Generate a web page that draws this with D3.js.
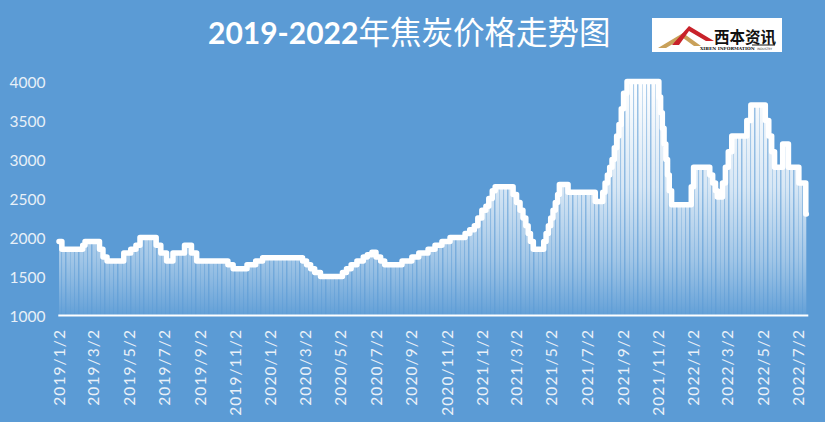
<!DOCTYPE html>
<html><head><meta charset="utf-8">
<script src="https://cdn.jsdelivr.net/npm/d3@7"></script>
<style>body{margin:0;background:#5b9bd5;} svg{display:block}</style>
</head><body>
<svg id="chart" width="825" height="422"></svg>
<script>
// ---- data ----
const dates = [
"2019-01-02","2019-01-07","2019-02-12","2019-02-16","2019-03-13","2019-03-19","2019-03-26","2019-04-24",
"2019-05-06","2019-05-15","2019-05-22","2019-06-19","2019-06-27","2019-07-07","2019-07-18","2019-08-07",
"2019-08-19","2019-08-28","2019-10-21","2019-10-30","2019-11-23","2019-12-08","2019-12-20",
"2020-02-27","2020-03-05","2020-03-12","2020-03-19","2020-03-29","2020-05-06","2020-05-13","2020-05-21",
"2020-05-31","2020-06-11","2020-06-18","2020-06-26","2020-07-03","2020-07-11","2020-07-18","2020-08-17",
"2020-09-03","2020-09-15","2020-10-01","2020-10-13","2020-10-25","2020-11-08","2020-12-04","2020-12-12",
"2020-12-20","2020-12-26","2021-01-02","2021-01-09","2021-01-14","2021-01-20","2021-01-25","2021-02-25",
"2021-03-03","2021-03-09","2021-03-14","2021-03-19","2021-03-23","2021-03-27","2021-04-01","2021-04-19",
"2021-04-23","2021-04-27","2021-05-01","2021-05-05","2021-05-09","2021-05-13","2021-05-16","2021-05-31",
"2021-07-17","2021-07-30","2021-08-03","2021-08-07","2021-08-11","2021-08-15","2021-08-19","2021-08-23",
"2021-08-27","2021-08-31","2021-09-04","2021-09-10","2021-11-04","2021-11-07","2021-11-10","2021-11-13",
"2021-11-16","2021-11-19","2021-11-22","2021-11-26","2021-12-30","2022-01-03","2022-01-31","2022-02-05",
"2022-02-10","2022-02-13","2022-02-22","2022-02-27","2022-03-04","2022-03-10","2022-04-05","2022-04-12",
"2022-05-07","2022-05-13","2022-05-18","2022-05-23","2022-06-06","2022-06-16","2022-07-04","2022-07-16",
"2022-07-17"];
const prices = [
1950,1850,1900,1950,1850,1750,1700,1800,
1850,1900,2000,1900,1800,1700,1800,1900,
1800,1700,1650,1600,1650,1700,1740,
1700,1650,1600,1550,1500,1550,1600,1650,
1700,1750,1780,1810,1750,1700,1650,1700,
1750,1800,1850,1900,1950,2000,2050,2100,
2150,2250,2350,2400,2500,2600,2650,2550,
2450,2350,2250,2150,2050,1950,1850,1950,
2050,2150,2250,2350,2450,2550,2680,2580,
2460,2580,2700,2800,2900,3000,3150,3300,
3450,3650,3850,4000,3800,3600,3400,3200,
3000,2800,2600,2420,2650,2900,2800,2700,
2600,2520,2700,2900,3100,3300,3500,3700,
3500,3300,3100,2900,3200,2900,2700,2300,
2300];
const yTicks = [1000,1500,2000,2500,3000,3500,4000];
const xTickLabels = ["2019/1/2","2019/3/2","2019/5/2","2019/7/2","2019/9/2","2019/11/2",
"2020/1/2","2020/3/2","2020/5/2","2020/7/2","2020/9/2","2020/11/2",
"2021/1/2","2021/3/2","2021/5/2","2021/7/2","2021/9/2","2021/11/2",
"2022/1/2","2022/3/2","2022/5/2","2022/7/2"];
const titleNum = "2019-2022";
const titleText = "年焦炭价格走势图";

// ---- drawing ----
const BG = "#5b9bd5";
const svg = d3.select("#chart");
svg.append("rect").attr("width",825).attr("height",422).attr("fill",BG);

const parse = d3.timeParse("%Y-%m-%d");
const parseTick = d3.timeParse("%Y/%m/%d");
const data = dates.map((d,i)=>({date:parse(d), v:prices[i]}));
const tickDates = xTickLabels.map(parseTick);

const x = d3.scaleTime().domain([tickDates[0], tickDates[tickDates.length-1]]).range([59, 797.7]);
const y = d3.scaleLinear().domain([1000,4000]).range([315.5, 81.5]);

const defs = svg.append("defs");
const grad = defs.append("linearGradient").attr("id","g").attr("gradientUnits","userSpaceOnUse")
  .attr("x1",0).attr("y1",y(4000)).attr("x2",0).attr("y2",y(1000));
[[0,1],[0.45,0.76],[0.76,0.43],[0.83,0.33],[0.957,0.12],[1,0.04]].forEach(s=>{
  grad.append("stop").attr("offset",s[0]).attr("stop-color","#fff").attr("stop-opacity",s[1]);
});
const pat = defs.append("pattern").attr("id","st").attr("patternUnits","userSpaceOnUse")
  .attr("width",13).attr("height",10);
[[0,1.5,0.6],[5,0.8,0.4],[9,1.1,0.5]].forEach(s=>{
  pat.append("rect").attr("x",s[0]).attr("width",s[1]).attr("height",10).attr("fill",BG).attr("opacity",s[2]);
});

const area = d3.area().curve(d3.curveStepAfter).x(d=>x(d.date)).y0(y(1000)).y1(d=>y(d.v));
const line = d3.line().curve(d3.curveStepAfter).x(d=>x(d.date)).y(d=>y(d.v));

svg.append("path").datum(data).attr("d",area).attr("fill","url(#g)");
svg.append("path").datum(data).attr("d",area).attr("fill","url(#st)");
svg.append("path").datum(data).attr("d",line).attr("fill","none").attr("stroke","#fff")
  .attr("stroke-width",5.5).attr("stroke-linejoin","round").attr("stroke-linecap","round");

// axis line
svg.append("line").attr("x1",58.3).attr("x2",808.3).attr("y1",y(1000)).attr("y2",y(1000))
  .attr("stroke","#fff").attr("stroke-width",1.8);

// y labels
const yAxis = d3.axisLeft(y).tickValues(yTicks).tickSize(0).tickPadding(0).tickFormat(d3.format("d"));
const ya = svg.append("g").attr("transform","translate(45.5,0)").call(yAxis);
ya.select(".domain").remove();
ya.selectAll("text").attr("fill","#e8f0f8").attr("font-family","Lato, 'Open Sans', sans-serif")
  .attr("font-size",15.5).attr("dy","0.36em");

// x labels
const fmt = d3.timeFormat("%Y/%-m/%-d");
const xAxis = d3.axisBottom(x).tickValues(tickDates).tickSize(0).tickFormat(fmt);
const xa = svg.append("g").attr("transform","translate(0,329)").call(xAxis);
xa.select(".domain").remove();
xa.selectAll("text").attr("fill","#e8f0f8").attr("font-family","Lato, 'Open Sans', sans-serif")
  .attr("font-size",15.5).attr("letter-spacing","1.1px")
  .attr("text-anchor","end").attr("transform","rotate(-90)")
  .attr("x",0).attr("y",0).attr("dy","0.36em");

// title
const t = svg.append("text").attr("x",208).attr("y",44).attr("fill","#fff");
t.append("tspan").text(titleNum).attr("font-family","Lato, sans-serif").attr("font-weight",700).attr("font-size",30);
t.append("tspan").text(titleText).attr("font-family","'Noto Sans CJK SC', sans-serif").attr("font-weight",400).attr("font-size",31.5);

// logo
const lg = svg.append("g");
lg.append("rect").attr("x",652).attr("y",18).attr("width",130).attr("height",34).attr("fill","#fff");
lg.append("polygon").attr("points","658,48 683,33 701,46 694,46 683,38 666,48").attr("fill","#c9a15a");
lg.append("polygon").attr("points","672,45 689,26 714,41 706,41 689,31 679,45").attr("fill","#c8222a");
lg.append("text").attr("x",714).attr("y",43).text("西本资讯").attr("font-family","'Noto Sans CJK SC', sans-serif")
  .attr("font-weight",700).attr("font-size",15.5).attr("fill","#111");
lg.append("line").attr("x1",752).attr("x2",775).attr("y1",45).attr("y2",45).attr("stroke","#111").attr("stroke-width",1);
lg.append("text").attr("x",700).attr("y",49.5).text("XIBEN INFORMATION").attr("font-family","'DejaVu Serif', serif")
  .attr("font-weight",700).attr("font-size",4.3).attr("fill","#111");
lg.append("text").attr("x",757).attr("y",49.5).text("INDUSTRY").attr("font-family","'DejaVu Sans', sans-serif")
  .attr("font-size",3).attr("fill","#333");
</script>
</body></html>
